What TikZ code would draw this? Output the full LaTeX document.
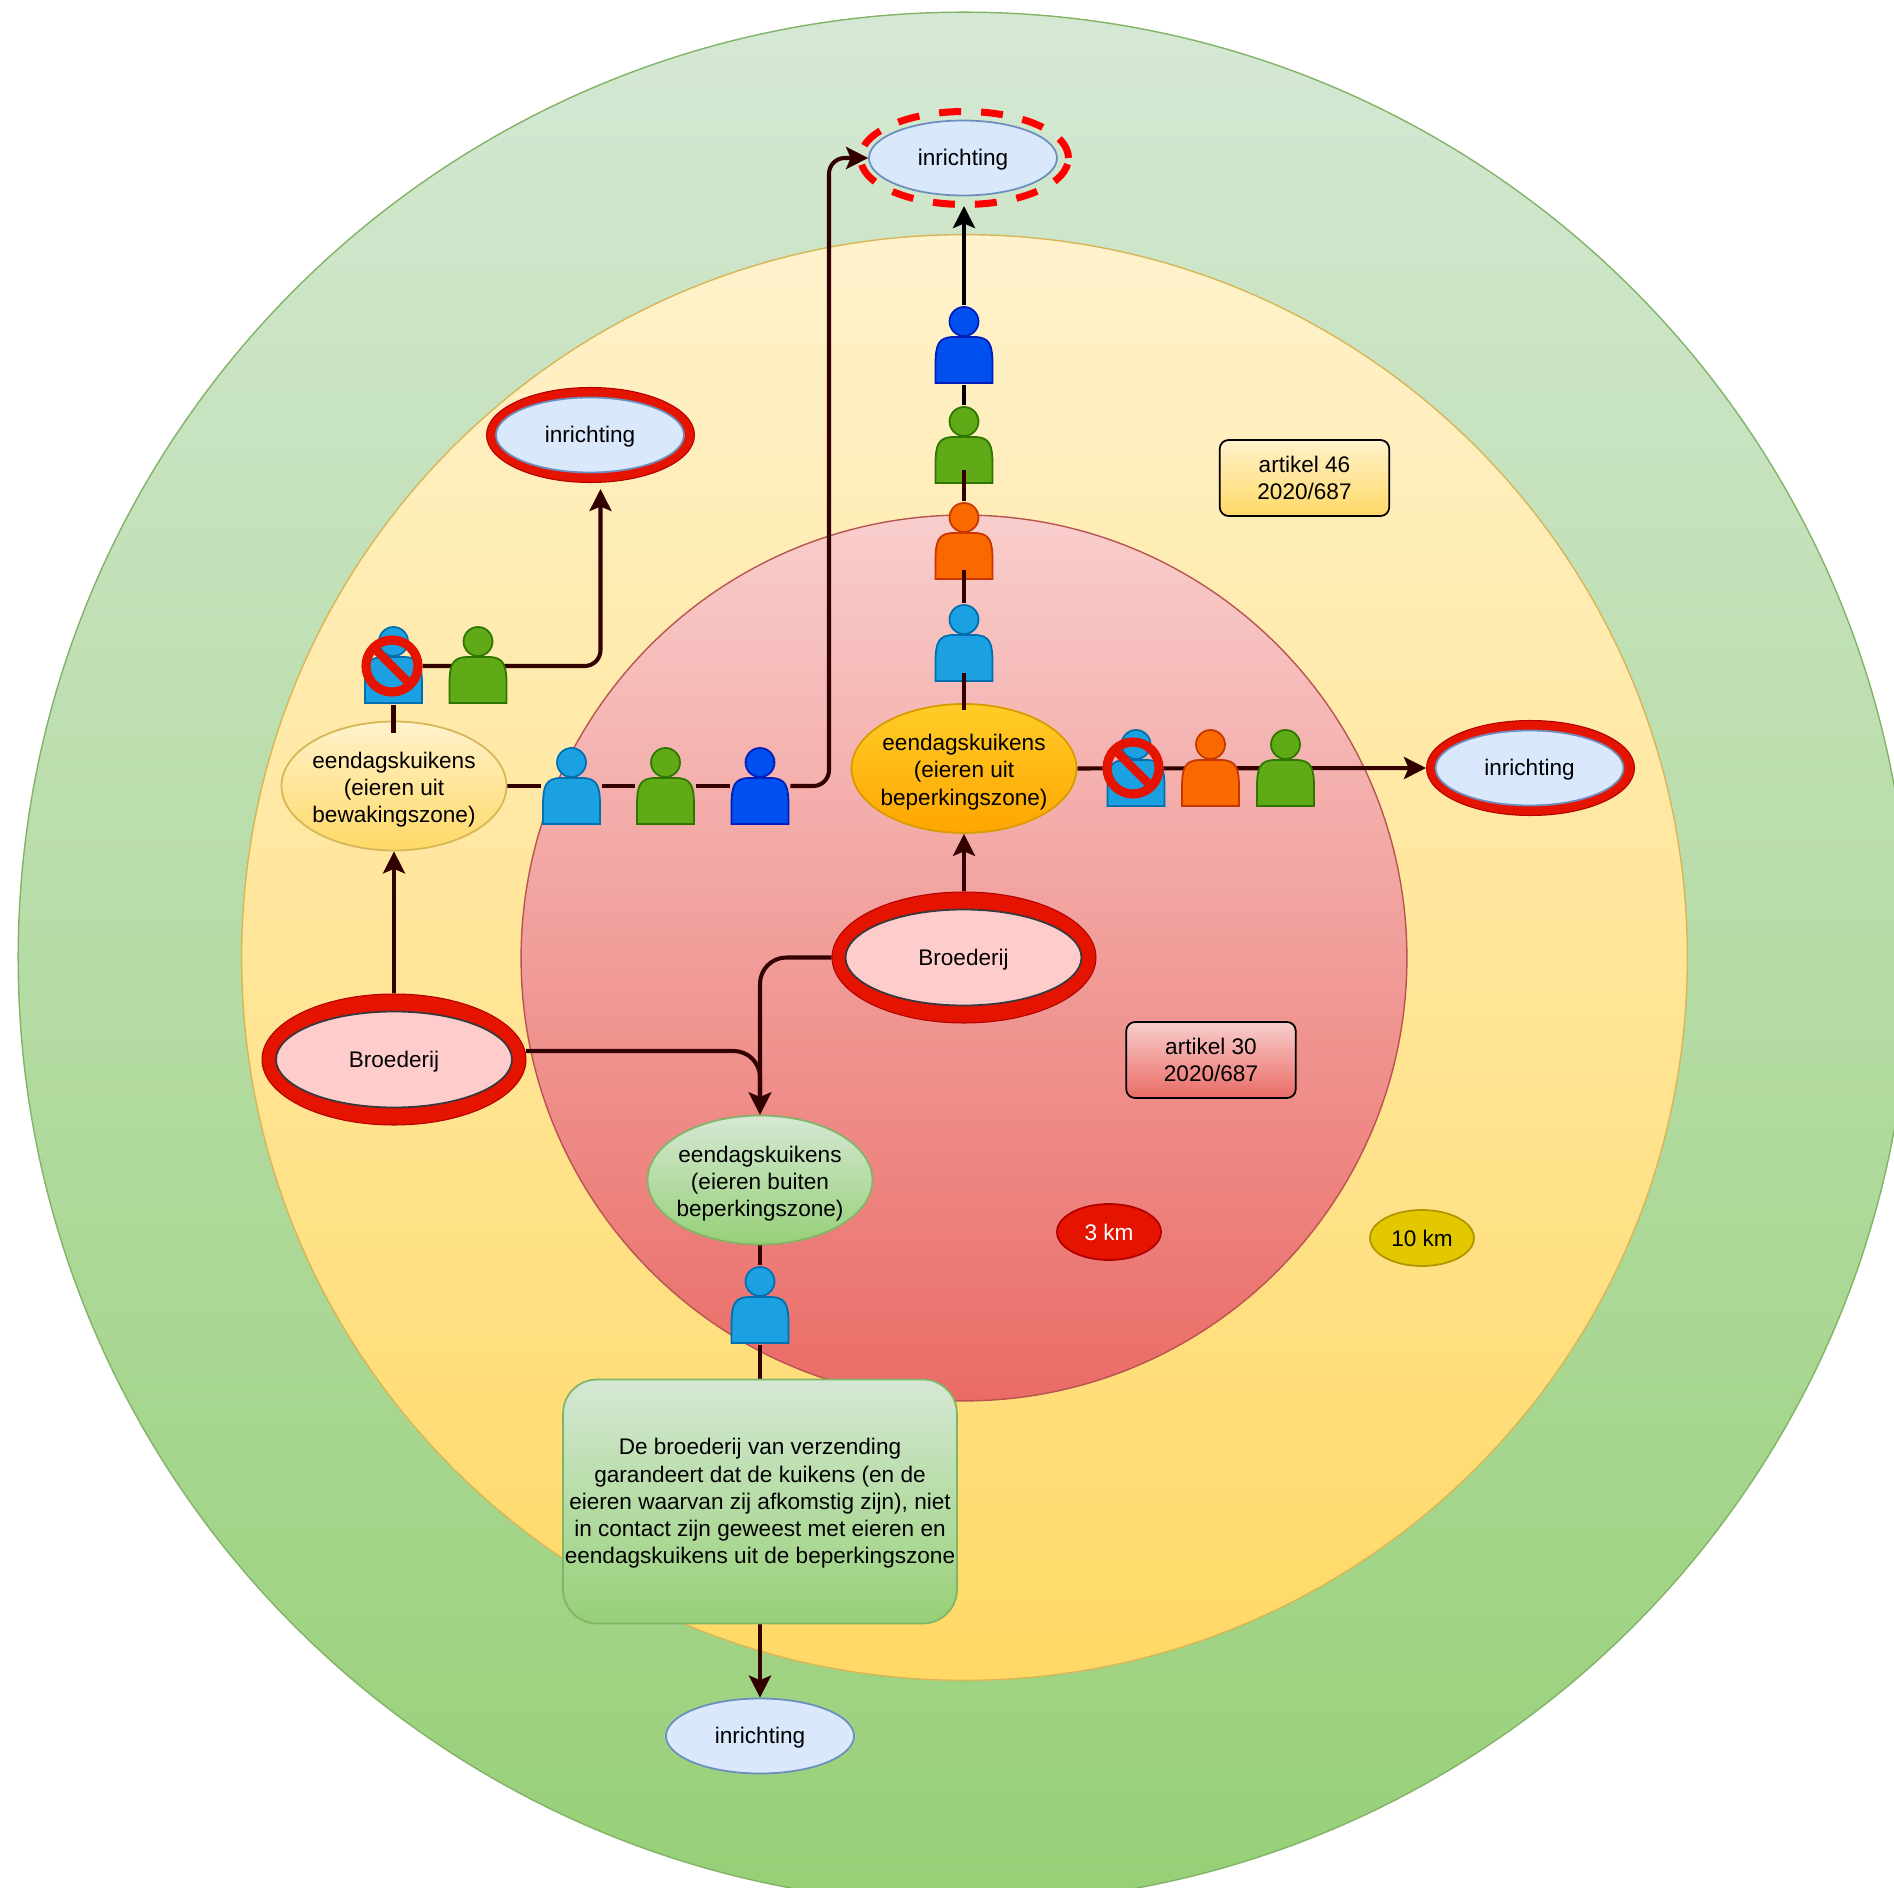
\documentclass[tikz,border=0pt]{standalone}
\usepackage{fontspec}
\setmainfont{Liberation Sans}
\usetikzlibrary{shapes.geometric,arrows.meta}

\definecolor{groenboven}{HTML}{D5E8D4}
\definecolor{groenonder}{HTML}{97D077}
\definecolor{groenlijn}{HTML}{82B366}
\definecolor{geelboven}{HTML}{FFF2CC}
\definecolor{geelonder}{HTML}{FFD966}
\definecolor{geellijn}{HTML}{D6B656}
\definecolor{roodboven}{HTML}{F8CECC}
\definecolor{roodonder}{HTML}{EA6B66}
\definecolor{roodlijn}{HTML}{B85450}
\definecolor{oranjeboven}{HTML}{FFCD28}
\definecolor{oranjeonder}{HTML}{FFA500}
\definecolor{oranjelijn}{HTML}{D79B00}
\definecolor{blauwlicht}{HTML}{1BA1E2}
\definecolor{blauwlichtrand}{HTML}{006EAF}
\definecolor{blauw}{HTML}{0050EF}
\definecolor{blauwrand}{HTML}{001DBC}
\definecolor{groen}{HTML}{60A917}
\definecolor{groenrand}{HTML}{2D7600}
\definecolor{oranje}{HTML}{FA6800}
\definecolor{oranjerand}{HTML}{C73500}
\definecolor{rood}{HTML}{E51400}
\definecolor{roodrand}{HTML}{B20000}
\definecolor{geel}{HTML}{E3C800}
\definecolor{geelrand}{HTML}{B09500}
\definecolor{lijnkleur}{HTML}{330000}
\definecolor{inrichtingvul}{HTML}{DAE8FC}
\definecolor{inrichtingrand}{HTML}{6C8EBF}
\definecolor{broederijvul}{HTML}{FFCCCC}
\definecolor{broederijrand}{HTML}{36393D}

\pgfdeclarelayer{zones}
\pgfdeclarelayer{lijnen}
\pgfsetlayers{zones,lijnen,main}

\tikzset{
	zone/.style n args={3}{circle, inner sep=0pt, line width=0.8pt, top color=#1, bottom color=#2, draw=#3},
	tekst/.style={execute at begin node={\rule{0pt}{#1}}},
	eivorm/.style={ellipse, align=center, inner xsep=-3mm, inner ysep=-1mm},
	inrichting/.style={eivorm, tekst=11.5pt, minimum width=3.76cm, minimum height=1.5cm, fill=inrichtingvul, draw=inrichtingrand, line width=1pt},
	rodering/.style={ellipse, fill=rood, draw=roodrand, line width=0.6pt},
	broederij/.style={eivorm, tekst=11.5pt, minimum width=4.72cm, minimum height=1.92cm, fill=broederijvul, draw=broederijrand, line width=1pt},
	kuiken/.style n args={3}{eivorm, tekst=44.4pt, minimum width=4.5cm, minimum height=2.58cm, top color=#1, bottom color=#2, draw=#3, line width=1pt},
	artikel/.style 2 args={rectangle, rounded corners=5pt, align=center, minimum width=3.39cm, minimum height=1.52cm, inner sep=0pt, top color=#1, bottom color=#2, draw=black, line width=1pt},
	afstand/.style 2 args={ellipse, inner sep=0pt, minimum width=2.08cm, minimum height=1.12cm, fill=#1, draw=#2, line width=1pt},
	persoon/.style 2 args={rectangle, inner sep=0pt, minimum width=1.2cm, minimum height=1.6cm, path picture={
		\begin{scope}[shift={(path picture bounding box.center)}, line width=1pt, fill=#1, draw=#2]
			\filldraw (-28.5,38) -- (-28.5,20) .. controls (-28.5,0) and (-26,-8) .. (-10,-8) -- (10,-8) .. controls (26,-8) and (28.5,0) .. (28.5,20) -- (28.5,38) -- cycle;
			\filldraw (0,-23.5) circle (0.29cm);
		\end{scope}}},
	verbod/.style={circle, inner sep=0pt, minimum size=1.04cm, draw=rood, line width=5.2pt, path picture={
		\draw[rood, line width=5pt] (path picture bounding box.north west) -- (path picture bounding box.south east);}},
	lijn/.style={lijnkleur, line width=2.3pt},
	pijl/.style={lijn, -{Stealth[length=0.44cm, width=0.44cm, inset=0.09cm]}},
}

\begin{document}
\begin{tikzpicture}[x=0.02cm, y=-0.02cm, font=\fontsize{12.85}{15.5}\selectfont]
	\useasboundingbox (0,0) rectangle (1894,1888);

	% zones
	\begin{pgfonlayer}{zones}
		\clip (0,0) rectangle (1894,1888);
		\node[zone={groenboven}{groenonder}{groenlijn}, minimum size=37.84cm] (zone10) at (964, 958) {};
		\node[zone={geelboven}{geelonder}{geellijn}, minimum size=28.92cm] (zonemidden) at (964.5, 957.5) {};
		\node[zone={roodboven}{roodonder}{roodlijn}, minimum size=17.72cm] (zone3) at (964, 958) {};
	\end{pgfonlayer}

	% inrichtingen
	\node[ellipse, draw=red, line width=4pt, dash pattern=on 12.5pt off 11.4pt, minimum width=4.16cm, minimum height=1.86cm] (randboven) at (964.5, 158) {};
	\node[inrichting] (inrboven) at (963, 158) {inrichting};
	\node[rodering, minimum width=4.16cm, minimum height=1.9cm] (randlinks) at (590.5, 435) {};
	\node[inrichting] (inrlinks) at (590, 435) {inrichting};
	\node[rodering, minimum width=4.16cm, minimum height=1.9cm] (randrechts) at (1530.5, 768) {};
	\node[inrichting] (inrrechts) at (1529.5, 768) {inrichting};
	\node[inrichting] (inronder) at (760, 1736) {inrichting};

	% broederijen
	\node[rodering, minimum width=5.28cm, minimum height=2.62cm] (randmidden) at (964, 957.5) {};
	\node[broederij] (brmidden) at (963.5, 957.5) {Broederij};
	\node[rodering, minimum width=5.28cm, minimum height=2.62cm] (randlinksb) at (394, 1059.5) {};
	\node[broederij] (brlinks) at (394, 1059.5) {Broederij};

	% eendagskuikens
	\node[kuiken={geelboven}{geelonder}{geellijn}] (kuikenlinks) at (394, 786) {eendagskuikens\\(eieren uit\\bewakingszone)};
	\node[kuiken={oranjeboven}{oranjeonder}{oranjelijn}] (kuikenmidden) at (964, 768.5) {eendagskuikens\\(eieren uit\\beperkingszone)};
	\node[kuiken={groenboven}{groenonder}{groenlijn}] (kuikenonder) at (760, 1180) {eendagskuikens\\(eieren buiten\\beperkingszone)};

	% personen
	\node[persoon={blauw}{blauwrand}] (pboven1) at (964, 345) {};
	\node[persoon={groen}{groenrand}] (pboven2) at (964, 445) {};
	\node[persoon={oranje}{oranjerand}] (pboven3) at (964, 541) {};
	\node[persoon={blauwlicht}{blauwlichtrand}] (pboven4) at (964, 643) {};
	\node[persoon={blauwlicht}{blauwlichtrand}] (plinks1) at (393.5, 665) {};
	\node[persoon={groen}{groenrand}] (plinks2) at (478, 665) {};
	\node[persoon={blauwlicht}{blauwlichtrand}] (prij1) at (571.5, 786) {};
	\node[persoon={groen}{groenrand}] (prij2) at (665.5, 786) {};
	\node[persoon={blauw}{blauwrand}] (prij3) at (760, 786) {};
	\node[persoon={blauwlicht}{blauwlichtrand}] (prechts1) at (1136, 768) {};
	\node[persoon={oranje}{oranjerand}] (prechts2) at (1210.5, 768) {};
	\node[persoon={groen}{groenrand}] (prechts3) at (1285.5, 768) {};
	\node[persoon={blauwlicht}{blauwlichtrand}] (ponder) at (760, 1305) {};

	% deze lijnen lopen over personen en ellipsen
	\coordinate (stiplinks) at (393.5, 733);
	\coordinate (stipgroen) at (964, 470);
	\coordinate (stiporanje) at (964, 570);
	\coordinate (stipblauw) at (964, 673);
	\coordinate (stipkuiken) at (964, 710);
	\draw[lijn] (plinks1.south) -- (stiplinks);
	\draw[lijn] (pboven3.north) -- (stipgroen);
	\draw[lijn] (pboven4.north) -- (stiporanje);
	\draw[lijn] (stipkuiken) -- (stipblauw);

	\node[verbod] (verbodlinks) at (392, 666) {};
	\node[verbod] (verbodrechts) at (1133, 768) {};

	% tekstvakken
	\node[rectangle, tekst=73.5pt, rounded corners=0.68cm, align=center, minimum width=7.88cm, minimum height=4.88cm, inner sep=0pt, top color=groenboven, bottom color=groenonder, draw=groenlijn, line width=1pt] (waarborg) at (760, 1501.5) {De broederij van verzending\\garandeert dat de kuikens (en de\\eieren waarvan zij afkomstig zijn), niet\\in contact zijn geweest met eieren en\\eendagskuikens uit de beperkingszone};
	\node[artikel={geelboven}{geelonder}] (art46) at (1304.5, 478) {artikel 46\\2020/687};
	\node[artikel={roodboven}{roodonder}] (art30) at (1211, 1060) {artikel 30\\2020/687};
	\node[afstand={rood}{roodrand}, text=white] (km3) at (1109, 1232) {3 km};
	\node[afstand={geel}{geelrand}] (km10) at (1422, 1238) {10 km};

	% verbindingen
	\coordinate (pijllinks) at (600.5, 489);
	\coordinate (uitlinks) at (526, 1051);
	\begin{pgfonlayer}{lijnen}
		\draw[pijl, black] (pboven1.north) -- (964, 206);
		\draw[lijn, black] (pboven2.north) -- (pboven1.south);

		\draw[pijl] (randmidden.north) -- (kuikenmidden.south);
		\draw[pijl] (randlinksb.north) -- (kuikenlinks.south);
		\draw[pijl, rounded corners=15pt] (randmidden.west) -- (kuikenonder.north |- randmidden.west) -- (kuikenonder.north);
		\draw[pijl, rounded corners=15pt] (uitlinks) -- (kuikenonder.north |- uitlinks) -- (kuikenonder.north);

		\draw[lijn] (kuikenlinks.east) -- (prij1.west);
		\draw[lijn] (prij1.east) -- (prij2.west);
		\draw[lijn] (prij2.east) -- (prij3.west);
		\draw[pijl, rounded corners=9pt] (prij3.east) -- (829, 786) -- (829, 158) -- (inrboven.west);

		\draw[pijl, rounded corners=9pt] (verbodlinks.east) -- (pijllinks |- verbodlinks.east) -- (pijllinks);
		\draw[pijl] (kuikenmidden.east) -- (randrechts.west);

		\draw[lijn] (kuikenonder.south) -- (ponder.north);
		\draw[lijn] (ponder.south) -- (waarborg.north);
		\draw[pijl] (waarborg.south) -- (inronder.north);
	\end{pgfonlayer}
\end{tikzpicture}
\end{document}
